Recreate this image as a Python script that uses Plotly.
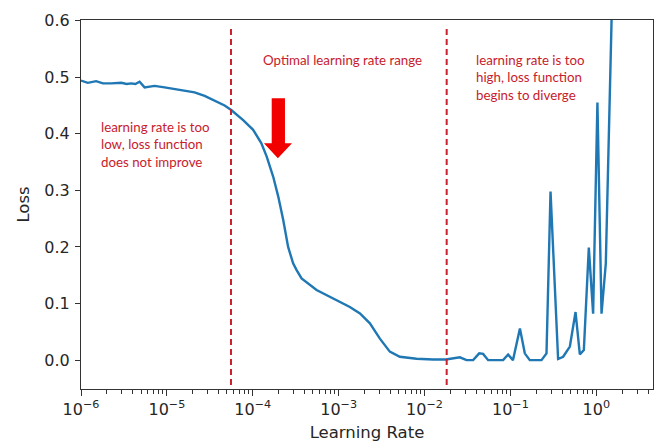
import plotly.graph_objects as go

# ---- data ----
learning_rate = [
    1.0e-6, 1.2e-6, 1.5e-6, 1.8e-6, 2.25e-6, 2.94e-6, 3.4e-6, 3.84e-6, 4.3e-6, 4.81e-6,
    5.5e-6, 7.19e-6, 9.4e-6, 1.23e-5, 1.61e-5, 2.1e-5, 2.75e-5, 3.59e-5, 4.7e-5, 5.61e-5,
    7.73e-5, 1.01e-4, 1.26e-4, 1.45e-4, 1.73e-4, 1.98e-4, 2.26e-4, 2.58e-4, 2.95e-4, 3.24e-4,
    3.7e-4, 5.53e-4, 8.63e-4, 1.35e-3, 1.77e-3, 2.31e-3, 3.02e-3, 3.94e-3, 5.15e-3, 8.07e-3,
    1.26e-2, 1.77e-2, 2.58e-2, 3.08e-2, 3.68e-2, 4.33e-2, 4.81e-2, 5.5e-2, 8.22e-2, 9.4e-2,
    0.107, 0.129, 0.147, 0.168, 0.230, 0.263, 0.293, 0.359, 0.411, 0.492,
    0.573, 0.643, 0.716, 0.818, 0.918, 1.03, 1.15, 1.29, 1.56,
]
loss = [
    0.494, 0.490, 0.493, 0.489, 0.489, 0.490, 0.488, 0.489, 0.488, 0.492,
    0.482, 0.4845, 0.482, 0.479, 0.475, 0.473, 0.467, 0.4585, 0.450, 0.442,
    0.424, 0.407, 0.383, 0.360, 0.324, 0.289, 0.248, 0.200, 0.171, 0.159,
    0.1445, 0.124, 0.109, 0.094, 0.0825, 0.065, 0.038, 0.015, 0.006, 0.0024,
    0.0012, 0.0012, 0.005, 0.0, 0.0, 0.012, 0.011, 0.0, 0.0, 0.010,
    0.0, 0.056, 0.012, 0.0, 0.0, 0.012, 0.298, 0.002, 0.006, 0.024,
    0.085, 0.010, 0.018, 0.199, 0.082, 0.455, 0.082, 0.171, 0.70,
]

x_tick_vals = [1e-6, 1e-5, 1e-4, 1e-3, 1e-2, 1e-1, 1e0]
x_tick_text = ["10<sup>−6</sup>", "10<sup>−5</sup>", "10<sup>−4</sup>", "10<sup>−3</sup>",
               "10<sup>−2</sup>", "10<sup>−1</sup>", "10<sup>0</sup>"]
y_tick_vals = [0.0, 0.1, 0.2, 0.3, 0.4, 0.5, 0.6]
y_tick_text = ["0.0", "0.1", "0.2", "0.3", "0.4", "0.5", "0.6"]
x_minor_vals = [m * d for d in x_tick_vals for m in range(2, 10)]

label_low = "learning rate is too<br>low, loss function<br>does not improve"
label_opt = "Optimal learning rate range"
label_high = "learning rate is too<br>high, loss function<br>begins to diverge"

RED = "#C8202C"
AXIS_COLOR = "#333333"
TICK_FONT = dict(family="DejaVu Sans", size=16, color="#262626")
TITLE_FONT = dict(family="DejaVu Sans", size=16.5, color="#262626")
NOTE_FONT = dict(family="Lato", size=13.3, color=RED)

fig = go.Figure()
fig.add_trace(go.Scatter(
    x=learning_rate, y=loss, mode="lines",
    line=dict(color="#1f77b4", width=2.4),
    showlegend=False, hoverinfo="skip",
))

# dashed boundaries (overlay drawn in paper coordinates)
for xp in (0.2622, 0.6393):
    fig.add_shape(type="line", xref="paper", yref="paper",
                  x0=xp, x1=xp, y0=0.011, y1=0.981,
                  line=dict(color=RED, width=2, dash="6px,4px"))

# big red arrow
fig.add_shape(
    type="path", xref="paper", yref="paper",
    path="M 0.3334,0.7878 L 0.3566,0.7878 L 0.3566,0.6659 L 0.3689,0.6659 "
         "L 0.3442,0.6252 L 0.3198,0.6659 L 0.3334,0.6659 Z",
    fillcolor="#F20000", line=dict(width=0),
)

fig.add_annotation(text=label_low, xref="paper", yref="paper", x=0.031, y=0.6631,
                   xanchor="left", yanchor="middle", align="left",
                   showarrow=False, font=NOTE_FONT)
fig.add_annotation(text=label_opt, xref="paper", yref="paper", x=0.314, y=0.8916,
                   xanchor="left", yanchor="middle", align="left",
                   showarrow=False, font=NOTE_FONT)
fig.add_annotation(text=label_high, xref="paper", yref="paper", x=0.6875, y=0.8442,
                   xanchor="left", yanchor="middle", align="left",
                   showarrow=False, font=NOTE_FONT)

fig.update_layout(
    width=658, height=446,
    margin=dict(l=81, r=5, t=20, b=57),
    paper_bgcolor="white", plot_bgcolor="white",
    font=dict(family="DejaVu Sans", color="#262626"),
)
fig.update_xaxes(
    type="log", range=[-6.0, 0.66], automargin=False,
    tickmode="array", tickvals=x_tick_vals, ticktext=x_tick_text, tickfont=TICK_FONT,
    ticks="outside", ticklen=6, tickwidth=1, tickcolor=AXIS_COLOR, ticklabelstandoff=0,
    minor=dict(tickmode="array", tickvals=x_minor_vals, ticks="outside", ticklen=4,
               tickwidth=1, tickcolor=AXIS_COLOR, showgrid=False),
    showline=True, linecolor=AXIS_COLOR, linewidth=1, mirror=True,
    showgrid=False, zeroline=False,
    title=dict(text="Learning Rate", font=TITLE_FONT, standoff=8),
)
fig.update_yaxes(
    range=[-0.051, 0.601], automargin=False,
    tickmode="array", tickvals=y_tick_vals, ticktext=y_tick_text, tickfont=TICK_FONT,
    ticks="outside", ticklen=5, tickwidth=1, tickcolor=AXIS_COLOR, ticklabelstandoff=2,
    showline=True, linecolor=AXIS_COLOR, linewidth=1, mirror=True,
    showgrid=False, zeroline=False,
    title=dict(text="Loss", font=TITLE_FONT, standoff=10),
)

fig.write_html("out.html", config={"displayModeBar": False},
               post_script="document.body.style.margin='0';")
